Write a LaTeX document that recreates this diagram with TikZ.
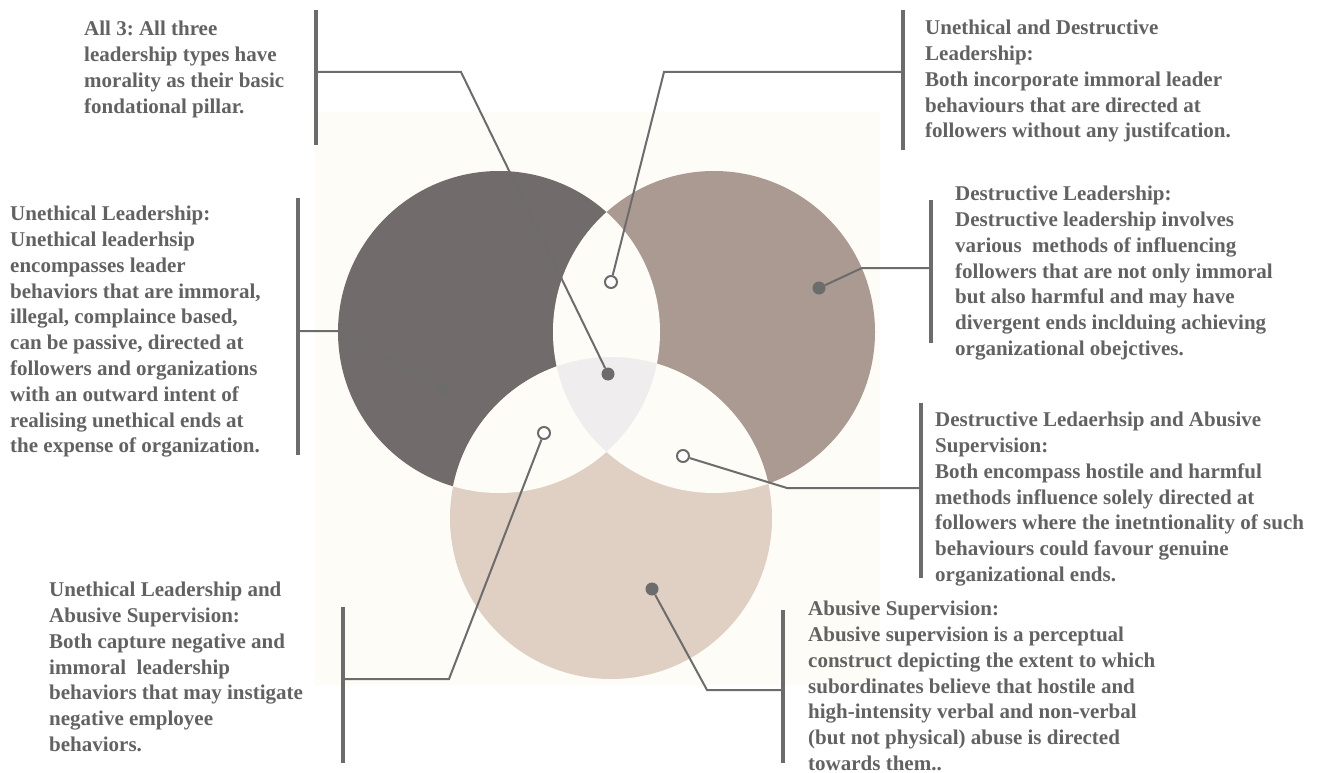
\documentclass[tikz,border=0pt]{standalone}
\usepackage{fontspec}
\setmainfont{Liberation Serif}
\usepackage{xcolor}
\usetikzlibrary{positioning,calc}
\frenchspacing

\definecolor{unethical}{RGB}{114,107,107}
\definecolor{destructive}{RGB}{171,154,145}
\definecolor{abusive}{RGB}{223,208,195}
\definecolor{cream}{RGB}{253,252,247}
\definecolor{core}{RGB}{239,237,238}
\definecolor{ink}{RGB}{98,98,98}
\definecolor{wire}{RGB}{108,108,108}

\begin{document}
\begin{tikzpicture}[x=1pt, y=-1pt]
    \tikzstyle{note} = [anchor=north west, inner sep=0pt, align=left, text=ink, font=\fontsize{21}{25.8}\selectfont\bfseries]
    \tikzstyle{bar} = [draw=wire, line width=3.5pt]
    \tikzstyle{lead} = [draw=wire, line width=2pt]
    \tikzstyle{dot} = [circle, fill=wire, minimum size=13pt, inner sep=0pt]
    \tikzstyle{hole} = [circle, draw=wire, line width=2pt, fill=white, minimum size=12pt, inner sep=0pt]

    \useasboundingbox (0,0) rectangle (1320,773);
    \fill[cream] (315,112) rectangle (880,685);

    % the three sets
    \coordinate (cL) at (499,332);
    \coordinate (cR) at (714,332);
    \coordinate (cB) at (611,518);
    \fill[unethical] (cL) circle (161pt);
    \fill[destructive] (cR) circle (161pt);
    \fill[abusive] (cB) circle (161pt);
    \begin{scope}
        \clip (cL) circle (161pt);
        \fill[cream] (cR) circle (161pt);
        \fill[cream] (cB) circle (161pt);
    \end{scope}
    \begin{scope}
        \clip (cR) circle (161pt);
        \fill[cream] (cB) circle (161pt);
    \end{scope}
    \begin{scope}
        \clip (cL) circle (161pt);
        \clip (cR) circle (161pt);
        \fill[core] (cB) circle (161pt);
    \end{scope}

    % texts
    \node [note] (all) at (84,21) {All 3: All three\\leadership types have\\morality as their basic\\fondational pillar.};
    \node [note] (ul) at (10,206) {Unethical Leadership:\\Unethical leaderhsip\\encompasses leader\\behaviors that are immoral,\\illegal, complaince based,\\can be passive, directed at\\followers and organizations\\with an outward intent of\\realising unethical ends at\\the expense of organization.};
    \node [note] (ud) at (925,20) {Unethical and Destructive\\Leadership:\\Both incorporate immoral leader\\behaviours that are directed at\\followers without any justifcation.};
    \node [note] (dl) at (955,186) {Destructive Leadership:\\Destructive leadership involves\\various\ \ methods of influencing\\followers that are not only immoral\\but also harmful and may have\\divergent ends inclduing achieving\\organizational obejctives.};
    \node [note] (da) at (935,412) {Destructive Ledaerhsip and Abusive\\Supervision:\\Both encompass hostile and harmful\\methods influence solely directed at\\followers where the inetntionality of such\\behaviours could favour genuine\\organizational ends.};
    \node [note] (as) at (808,601) {Abusive Supervision:\\Abusive supervision is a perceptual\\construct depicting the extent to which\\subordinates believe that hostile and\\high-intensity verbal and non-verbal\\(but not physical) abuse is directed\\towards them..};
    \node [note] (ua) at (49,582) {Unethical Leadership and\\Abusive Supervision:\\Both capture negative and\\immoral\ \ leadership\\behaviors that may instigate\\negative employee\\behaviors.};

    % markers
    \node [dot] (allD) at (608,374) {};
    \node [dot] (ulD) at (442,389) {};
    \node [hole] (udD) at (611,282) {};
    \node [dot] (dlD) at (819,288) {};
    \node [hole] (daD) at (683,456) {};
    \node [dot] (asD) at (652,589) {};
    \node [hole] (uaD) at (544,433) {};

    % brackets
    \coordinate (allT) at (316,10);   \coordinate (allB) at (316,145);  \coordinate (allM) at (316,72);
    \coordinate (ulT) at (298,198);   \coordinate (ulB) at (298,455);   \coordinate (ulM) at (298,331);
    \coordinate (udT) at (903,10);    \coordinate (udB) at (903,150);   \coordinate (udM) at (903,72);
    \coordinate (dlT) at (931,200);   \coordinate (dlB) at (931,343);   \coordinate (dlM) at (931,268);
    \coordinate (daT) at (921,403);   \coordinate (daB) at (921,578);   \coordinate (daM) at (921,488);
    \coordinate (asT) at (783,610);   \coordinate (asB) at (783,763);   \coordinate (asM) at (783,690);
    \coordinate (uaT) at (343,607);   \coordinate (uaB) at (343,763);   \coordinate (uaM) at (343,679);

    \draw [bar] (allT) -- (allB);
    \draw [bar] (ulT) -- (ulB);
    \draw [bar] (udT) -- (udB);
    \draw [bar] (dlT) -- (dlB);
    \draw [bar] (daT) -- (daB);
    \draw [bar] (asT) -- (asB);
    \draw [bar] (uaT) -- (uaB);

    \draw [lead] (allM) -- (461,72) -- (allD);
    \draw [lead] (ulM) -- (338,331) -- (ulD);
    \draw [lead] (udM) -- (664,72) -- (udD);
    \draw [lead] (dlM) -- (862,268) -- (dlD);
    \draw [lead] (daM) -- (787,488) -- (daD);
    \draw [lead] (asM) -- (707,690) -- (asD);
    \draw [lead] (uaM) -- (449,679) -- (uaD);
\end{tikzpicture}
\end{document}
